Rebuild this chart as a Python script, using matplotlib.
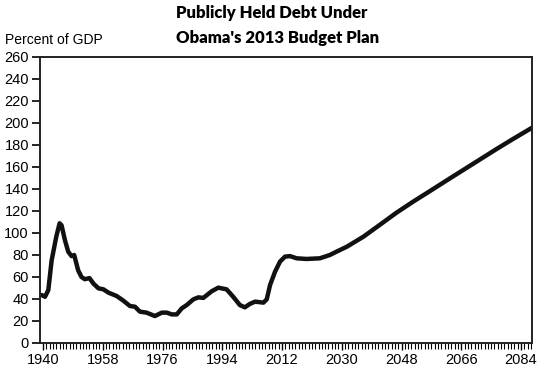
import matplotlib
matplotlib.use("Agg")
import matplotlib.pyplot as plt
from matplotlib.ticker import MultipleLocator

years = [1939.6, 1940.6, 1941.6, 1942.6, 1944.0, 1945.0, 1945.6, 1946.6, 1947.6, 1948.6,
         1949.4, 1950.6, 1951.6, 1952.6, 1954.0, 1955.2, 1956.7, 1958.2, 1959.7, 1962.2,
         1964.2, 1966.2, 1967.7, 1969.2, 1971.2, 1973.7, 1975.8, 1977.3, 1978.8, 1980.3,
         1981.8, 1983.3, 1985.3, 1986.8, 1988.3, 1990.8, 1992.8, 1995.3, 1997.3, 1999.3,
         2000.8, 2002.3, 2003.9, 2006.4, 2007.4, 2008.4, 2009.9, 2011.4, 2012.9, 2014.4,
         2016.4, 2019.4, 2023.4, 2026.4, 2028.4, 2031.5, 2036.5, 2041.5, 2046.5, 2051.5,
         2056.6, 2061.6, 2066.6, 2071.6, 2076.6, 2081.6, 2087.2]
debt = [43.6, 42.0, 48.0, 75.0, 96.6, 108.8, 107.0, 93.6, 83.0, 79.0,
        80.0, 66.0, 60.0, 58.0, 59.0, 54.0, 49.7, 48.8, 45.8, 42.7,
        38.5, 33.6, 33.0, 28.5, 27.6, 24.5, 27.6, 27.6, 26.0, 26.0,
        31.5, 34.5, 39.7, 41.5, 41.0, 47.0, 50.3, 48.8, 42.0, 34.5,
        32.4, 35.5, 37.6, 36.7, 39.7, 52.7, 64.8, 74.0, 78.5, 79.0,
        77.0, 76.4, 77.0, 80.0, 83.0, 87.5, 96.6, 107.5, 118.5, 128.5,
        138.2, 147.8, 157.3, 166.8, 176.3, 185.5, 195.5]

xticks = [1940, 1958, 1976, 1994, 2012, 2030, 2048, 2066, 2084]
yticks = list(range(0, 261, 20))

fig = plt.figure(figsize=(5.45, 3.8), dpi=100)
ax = fig.add_axes([40/545, 37/380, 492/545, 286/380])

ax.plot(years, debt, color="#111111", lw=3.2, solid_joinstyle="round", solid_capstyle="round")

ax.set_xlim(1939.1, 2087.3)
ax.set_ylim(0, 260)
ax.set_xticks(xticks)
ax.xaxis.set_minor_locator(MultipleLocator(1))
ax.set_yticks(yticks)

for s in ax.spines.values():
    s.set_linewidth(1.4)
    s.set_color("#222222")

ax.tick_params(axis="y", which="major", direction="out", length=6, width=1.2,
               labelsize=10.5, pad=2)
ax.tick_params(axis="x", which="major", direction="out", length=5, width=1.0,
               labelsize=10.5, pad=2)
ax.tick_params(axis="x", which="minor", direction="out", length=4, width=0.8)
for lab in ax.get_xticklabels() + ax.get_yticklabels():
    lab.set_family("Liberation Sans")

fig.text(5/545, 1 - 40/380, "Percent of GDP", family="Liberation Sans", fontsize=10,
         ha="left", va="center")
fig.text(272/545, 1 - 13/380, "Publicly Held Debt Under", family="Lato",
         fontweight="heavy", fontsize=12, ha="center", va="center")
fig.text(278/545, 1 - 38/380, "Obama's 2013 Budget Plan", family="Lato",
         fontweight="heavy", fontsize=12, ha="center", va="center")

fig.savefig("out.png", dpi=100)
